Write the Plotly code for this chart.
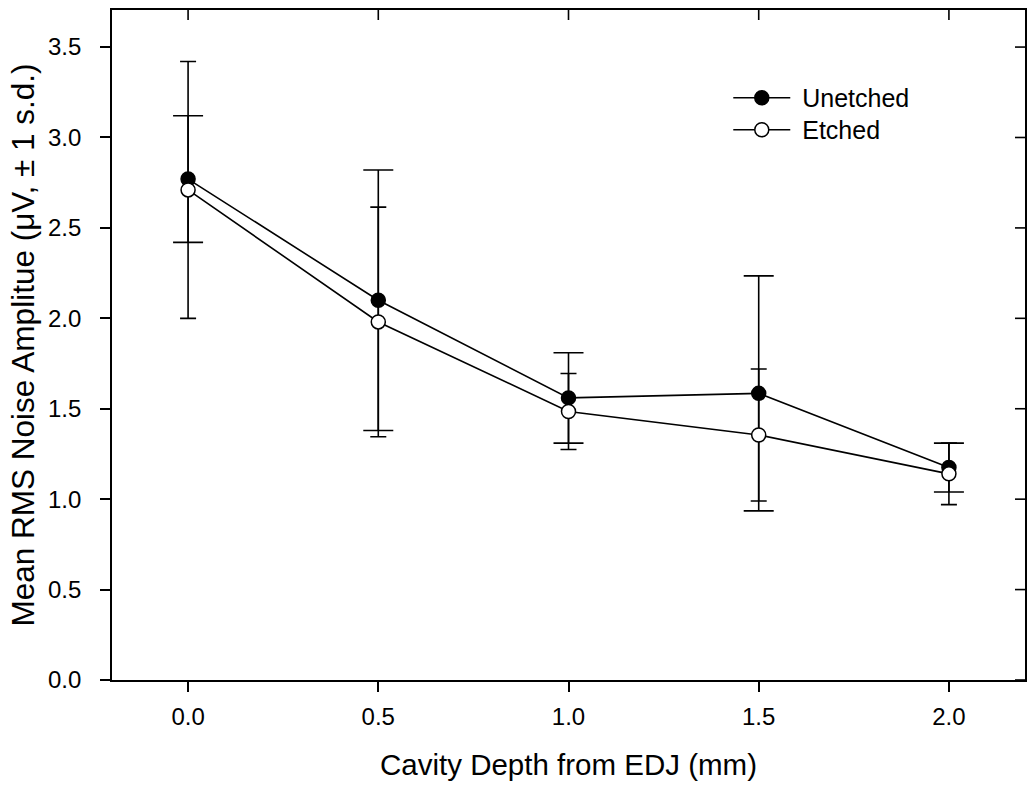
import plotly.graph_objects as go

# Cavity depth from the enamel-dentine junction (mm)
depth = [0.0, 0.5, 1.0, 1.5, 2.0]

# Mean RMS noise amplitude (µV) and one standard deviation
unetched_mean = [2.77, 2.10, 1.56, 1.585, 1.175]
unetched_sd = [0.35, 0.72, 0.25, 0.65, 0.135]
etched_mean = [2.71, 1.98, 1.485, 1.355, 1.14]
etched_sd = [0.71, 0.635, 0.21, 0.365, 0.17]

x_ticks = [0.0, 0.5, 1.0, 1.5, 2.0]
y_ticks = [0.0, 0.5, 1.0, 1.5, 2.0, 2.5, 3.0, 3.5]

FONT = "Liberation Sans, Arial, sans-serif"
X_RANGE = [-0.2, 2.2]
Y_RANGE = [0.0, 3.705]
TICK_LEN = 10
LINE_W = 1.6

fig = go.Figure()

fig.add_trace(go.Scatter(
    x=depth, y=unetched_mean, name="\u00a0Unetched", mode="lines+markers",
    legend="legend",
    line=dict(color="black", width=LINE_W),
    marker=dict(symbol="circle", size=14, color="black",
                line=dict(color="black", width=1.5)),
    error_y=dict(type="data", array=unetched_sd, visible=True,
                 color="black", thickness=LINE_W, width=15),
))
fig.add_trace(go.Scatter(
    x=depth, y=etched_mean, name="\u00a0Etched", mode="lines+markers",
    legend="legend2",
    line=dict(color="black", width=LINE_W),
    marker=dict(symbol="circle", size=14, color="white",
                line=dict(color="black", width=1.5)),
    error_y=dict(type="data", array=etched_sd, visible=True,
                 color="black", thickness=LINE_W, width=8),
))

axis_common = dict(
    showgrid=False, zeroline=False, showline=True, mirror=True,
    linecolor="black", linewidth=LINE_W,
    tickcolor="black", tickwidth=LINE_W, ticklen=TICK_LEN, ticks="outside",
    tickfont=dict(family=FONT, size=24),
)

legend_common = dict(
    x=0.675, xanchor="left", yanchor="middle",
    bgcolor="rgba(0,0,0,0)", borderwidth=0,
    font=dict(family=FONT, size=25, color="black"),
    itemwidth=57,
)

# Inward-pointing ticks along the top and right edges of the frame
frame_ticks = []
for xv in x_ticks:
    frame_ticks.append(dict(
        type="line", xref="x", yref="paper", ysizemode="pixel", yanchor=1,
        x0=xv, x1=xv, y0=0, y1=-TICK_LEN,
        line=dict(color="black", width=LINE_W), layer="above",
    ))
for yv in y_ticks:
    frame_ticks.append(dict(
        type="line", xref="paper", yref="y", xsizemode="pixel", xanchor=1,
        x0=0, x1=-TICK_LEN, y0=yv, y1=yv,
        line=dict(color="black", width=LINE_W), layer="above",
    ))

fig.update_layout(
    width=1028, height=785,
    margin=dict(l=112, r=1, t=10, b=105),
    paper_bgcolor="white", plot_bgcolor="white",
    font=dict(family=FONT, color="black", size=24),
    showlegend=True,
    legend=dict(**legend_common, y=0.8687),
    legend2=dict(**legend_common, y=0.8209),
    shapes=frame_ticks,
    xaxis=dict(
        **axis_common, range=X_RANGE, tickvals=x_ticks,
        ticktext=[f"{v:.1f}" for v in x_ticks],
        ticklabelstandoff=4,
        title=dict(text="Cavity Depth from EDJ (mm)",
                   font=dict(family=FONT, size=29.5), standoff=26),
    ),
    yaxis=dict(
        **axis_common, range=Y_RANGE, tickvals=y_ticks,
        ticktext=[f"{v:.1f}" for v in y_ticks],
        ticklabelstandoff=14,
        title=dict(text="Mean RMS Noise Amplitue (μV, ± 1 s.d.)",
                   font=dict(family=FONT, size=31.5), standoff=4),
    ),
)

fig.write_html("out.html")
